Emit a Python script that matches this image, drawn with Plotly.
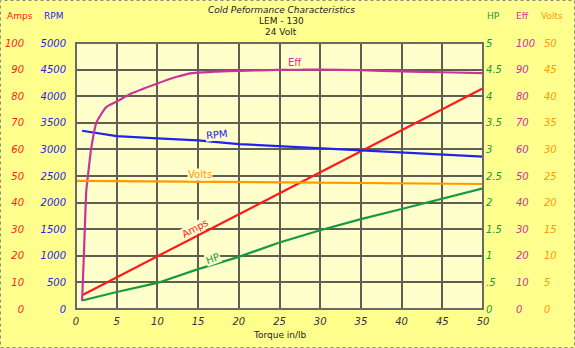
import plotly.graph_objects as go

# ---- data ----
amps_torque = [0.75, 10, 20, 30, 40, 50]
amps_values = [5.2, 19.8, 35.6, 51.4, 67.2, 83.0]

rpm_torque = [0.75, 5, 10, 15, 20, 25, 30, 35, 40, 45, 50]
rpm_values = [3350, 3250, 3208, 3170, 3100, 3062, 3020, 2990, 2940, 2900, 2865]

eff_torque = [0.75, 1.0, 1.27, 1.5, 1.85, 2.5, 3.75, 5, 6.8, 10, 12.4, 14, 17, 20, 25, 30, 35, 40, 45, 50]
eff_values = [3, 23, 44.7, 51, 60, 70, 76, 78, 81, 84.8, 87.3, 88.6, 89.2, 89.5, 89.9, 90, 89.8, 89.3, 89, 88.7]

volts_torque = [0, 10, 20, 30, 40, 50]
volts_values = [24.1, 24.0, 23.9, 23.8, 23.65, 23.5]

hp_torque = [0.75, 5, 10, 15, 20, 25, 30, 35, 40, 45, 50]
hp_values = [0.16, 0.32, 0.49, 0.75, 0.98, 1.25, 1.48, 1.69, 1.88, 2.08, 2.27]

x_ticks = list(range(0, 55, 5))
amps_ticks = list(range(0, 110, 10))
rpm_ticks = list(range(0, 5500, 500))
hp_ticks = [0, 0.5, 1, 1.5, 2, 2.5, 3, 3.5, 4, 4.5, 5]
hp_ticktext = ["0", ".5", "1", "1.5", "2", "2.5", "3", "3.5", "4", "4.5", "5"]
eff_ticks = list(range(0, 110, 10))
volts_ticks = list(range(0, 55, 5))

title_lines = ["Cold Peformance Characteristics", "LEM - 130", "24 Volt"]
x_title = "Torque in/lb"

# ---- styling ----
W, H = 575, 348
L, R, T, B = 76, 483, 43, 309
FONT = "DejaVu Sans"
RED, BLUE, MAG, ORA, GRN = "#FF1A1A", "#2222EE", "#CC3399", "#FF9900", "#169A3C"
PAPER_BG, PLOT_BG = "#FFFF8E", "#FFFFCC"
GRID = "#5E5E52"

fig = go.Figure()
fig.add_trace(go.Scatter(x=amps_torque, y=amps_values, mode="lines", line=dict(color=RED, width=2.2), yaxis="y", name="Amps"))
fig.add_trace(go.Scatter(x=rpm_torque, y=rpm_values, mode="lines", line=dict(color=BLUE, width=2.2), yaxis="y2", name="RPM"))
fig.add_trace(go.Scatter(x=hp_torque, y=hp_values, mode="lines", line=dict(color=GRN, width=2.2), yaxis="y3", name="HP"))
fig.add_trace(go.Scatter(x=eff_torque, y=eff_values, mode="lines", line=dict(color=MAG, width=2.2, shape="spline", smoothing=0.6), yaxis="y4", name="Eff"))
fig.add_trace(go.Scatter(x=volts_torque, y=volts_values, mode="lines", line=dict(color=ORA, width=2.2), yaxis="y5", name="Volts"))

ph = B - T


def px(xp):
    return xp / W


def py(yp):
    """pixel row from top -> paper fraction"""
    return (B - yp) / ph


def ytick(color, vals, pos, side, text=None, grid=False):
    d = dict(range=[vals[0], vals[-1]], tickvals=vals, anchor="free", position=pos, side=side,
             showline=False, ticks="", zeroline=False, showgrid=grid,
             tickfont=dict(family=FONT, size=10, color=color, style="italic"),
             automargin=False, fixedrange=True)
    if text:
        d["ticktext"] = text
    return d


fig.update_layout(
    width=W, height=H,
    margin=dict(l=0, r=0, t=T, b=H - B),
    paper_bgcolor=PAPER_BG, plot_bgcolor=PLOT_BG,
    showlegend=False,
    xaxis=dict(domain=[px(L), px(R)], range=[0, 50], tickvals=x_ticks, showgrid=True,
               gridcolor=GRID, gridwidth=1.5, zeroline=False, showline=False, ticks="",
               ticklabelstandoff=5,
               tickfont=dict(family=FONT, size=10, color="#333333", style="italic"),
               automargin=False),
    yaxis=dict(**ytick(RED, amps_ticks, px(24), "left", grid=True), gridcolor=GRID, gridwidth=1.5),
    yaxis2=dict(**ytick(BLUE, rpm_ticks, px(66), "left"), overlaying="y"),
    yaxis3=dict(**ytick(GRN, hp_ticks, px(485), "right", hp_ticktext), overlaying="y"),
    yaxis4=dict(**ytick(MAG, eff_ticks, px(515), "right"), overlaying="y"),
    yaxis5=dict(**ytick(ORA, volts_ticks, px(543), "right"), overlaying="y"),
)

# plot frame
fig.add_shape(type="rect", xref="paper", yref="paper", x0=px(L), x1=px(R), y0=0, y1=1,
              line=dict(color="#6A6A60", width=2), layer="above")
# outer dotted border
fig.add_shape(type="rect", xref="paper", yref="paper", x0=0.5 / W, x1=1 - 0.5 / W,
              y0=py(H - 0.5), y1=py(0.5),
              line=dict(color="#8A8A80", width=1, dash="dot"))

ann = []
# title
for i, (line, yy) in enumerate(zip(title_lines, [10, 21, 32])):
    ann.append(dict(text=line, x=281 / W, y=py(yy), xref="paper", yref="paper",
                    xanchor="center", yanchor="middle",
                    showarrow=False, font=dict(family=FONT, size=9, color="#222222",
                                               style="italic" if i == 0 else "normal")))
ann.append(dict(text=x_title, x=(L + R) / 2 / W, y=py(335), xref="paper", yref="paper",
                xanchor="center", yanchor="middle",
                showarrow=False, font=dict(family=FONT, size=9, color="#222222")))
# axis headings
for txt, cx, col in [("Amps", 20, RED), ("RPM", 54, BLUE), ("HP", 493, GRN), ("Eff", 522, MAG), ("Volts", 552, ORA)]:
    ann.append(dict(text=txt, x=cx / W, y=py(16), xref="paper", yref="paper",
                    xanchor="center", yanchor="middle",
                    showarrow=False, font=dict(family=FONT, size=9, color=col)))
# series labels
for txt, xx, yy, col, ang in [("Eff", 26.9, 92.5, MAG, 0), ("RPM", 17.3, 65.5, BLUE, -6),
                              ("Volts", 15.2, 50.4, ORA, 0), ("Amps", 14.6, 30.3, RED, -28),
                              ("HP", 16.8, 18.8, GRN, -20)]:
    ann.append(dict(text=txt, x=xx, y=yy, xref="x", yref="y", showarrow=False, textangle=ang,
                    bgcolor=PLOT_BG, borderpad=0,
                    font=dict(family=FONT, size=10, color=col)))
fig.update_layout(annotations=ann)

fig.write_html("out.html")
